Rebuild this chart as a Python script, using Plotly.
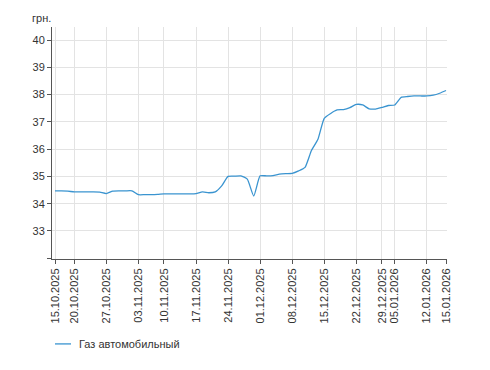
import plotly.graph_objects as go

dates = [
    "15.10.2025", "16.10.2025", "17.10.2025",
    "20.10.2025", "21.10.2025", "22.10.2025", "23.10.2025", "24.10.2025",
    "27.10.2025", "28.10.2025", "29.10.2025", "30.10.2025", "31.10.2025",
    "03.11.2025", "04.11.2025", "05.11.2025", "06.11.2025",
    "10.11.2025", "11.11.2025", "12.11.2025", "13.11.2025", "14.11.2025",
    "17.11.2025", "18.11.2025", "19.11.2025", "20.11.2025", "21.11.2025",
    "24.11.2025", "25.11.2025", "26.11.2025", "27.11.2025", "28.11.2025",
    "01.12.2025", "02.12.2025", "03.12.2025", "04.12.2025", "05.12.2025",
    "08.12.2025", "09.12.2025", "10.12.2025", "11.12.2025", "12.12.2025",
    "15.12.2025", "16.12.2025", "17.12.2025", "18.12.2025", "19.12.2025",
    "22.12.2025", "23.12.2025", "24.12.2025", "26.12.2025",
    "29.12.2025", "30.12.2025",
    "05.01.2026", "06.01.2026", "07.01.2026", "08.01.2026", "09.01.2026",
    "12.01.2026", "13.01.2026", "14.01.2026", "15.01.2026",
]

prices = [
    34.47, 34.47, 34.46,
    34.43, 34.43, 34.43, 34.43, 34.42,
    34.37, 34.46, 34.47, 34.47, 34.47,
    34.33, 34.33, 34.33, 34.34,
    34.36, 34.36, 34.36, 34.36, 34.36,
    34.37, 34.43, 34.40, 34.43, 34.65,
    35.00, 35.01, 35.02, 34.90, 34.28,
    35.02, 35.02, 35.03, 35.08, 35.10,
    35.11, 35.20, 35.33, 35.95, 36.35,
    37.13, 37.31, 37.44, 37.45, 37.52,
    37.64, 37.62, 37.48, 37.47,
    37.53, 37.60,
    37.62, 37.90, 37.93, 37.95, 37.95,
    37.95, 37.98, 38.05, 38.15,
]

tick_dates = [
    "15.10.2025", "20.10.2025", "27.10.2025", "03.11.2025", "10.11.2025",
    "17.11.2025", "24.11.2025", "01.12.2025", "08.12.2025", "15.12.2025",
    "22.12.2025", "29.12.2025", "05.01.2026", "12.01.2026", "15.01.2026",
]

y_ticks = [32, 33, 34, 35, 36, 37, 38, 39, 40]
y_tick_text = ["", "33", "34", "35", "36", "37", "38", "39", "40"]

series_name = "Газ автомобильный"
unit_label = "грн."

FONT = "Liberation Sans, Arial, sans-serif"
TEXT = "#333333"
LINE_COLOR = "#3a94d0"

fig = go.Figure()
fig.add_trace(go.Scatter(
    x=dates, y=prices, mode="lines", name=series_name,
    line=dict(color=LINE_COLOR, width=1.3, shape="spline", smoothing=0.5),
    showlegend=False,
))

legend_y = -0.366
fig.update_layout(
    width=482, height=362,
    margin=dict(l=44, r=43, t=19, b=111),
    paper_bgcolor="white", plot_bgcolor="white",
    font=dict(family=FONT, size=11, color=TEXT),
    showlegend=False,
    xaxis=dict(
        type="category", categoryorder="array", categoryarray=dates,
        range=[-0.47, 61.15],
        tickmode="array", tickvals=tick_dates, ticktext=tick_dates,
        tickangle=-90, ticks="outside", ticklen=4, tickcolor="#555555",
        showgrid=True, gridcolor="#e3e3e3", gridwidth=1,
        showline=True, linecolor="#555555", linewidth=1,
        zeroline=False, tickfont=dict(size=11, color=TEXT),
    ),
    yaxis=dict(
        range=[31.97, 40.48],
        tickmode="array", tickvals=y_ticks, ticktext=y_tick_text,
        ticks="outside", ticklen=4, tickcolor="#555555",
        showgrid=True, gridcolor="#e3e3e3", gridwidth=1,
        showline=True, linecolor="#555555", linewidth=1,
        zeroline=False, tickfont=dict(size=11, color=TEXT),
    ),
    shapes=[dict(
        type="line", xref="paper", yref="paper",
        x0=0.0076, x1=0.0481, y0=legend_y, y1=legend_y,
        line=dict(color=LINE_COLOR, width=1.3),
    )],
    annotations=[
        dict(
            text=unit_label, xref="paper", yref="paper",
            x=-0.055, y=1.04, xanchor="left", yanchor="middle",
            showarrow=False, font=dict(size=11, color=TEXT),
        ),
        dict(
            text=series_name, xref="paper", yref="paper",
            x=0.064, y=legend_y, xanchor="left", yanchor="middle",
            showarrow=False, font=dict(size=11, color=TEXT),
        ),
    ],
)

fig.write_html("out.html")
